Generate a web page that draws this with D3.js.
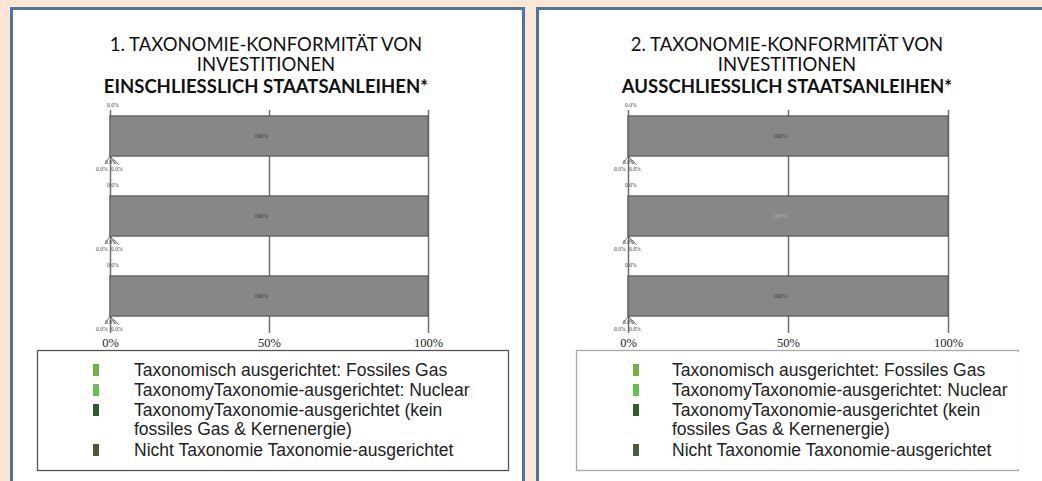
<!DOCTYPE html>
<html>
<head>
<meta charset="utf-8">
<script src="https://cdn.jsdelivr.net/npm/d3@7"></script>
<style>
  body { margin: 0; background: #fde6d5; }
  svg { display: block; }
</style>
</head>
<body>
<div id="chart"></div>
<script>
// chart data
let categories = ["Umsatz", "CapEx", "OpEx"];
let seriesNames = [
    "Taxonomisch ausgerichtet: Fossiles Gas",
    "TaxonomyTaxonomie-ausgerichtet: Nuclear",
    "TaxonomyTaxonomie-ausgerichtet (kein fossiles Gas & Kernenergie)",
    "Nicht Taxonomie Taxonomie-ausgerichtet"
];
// values per category, order = seriesNames
let valuesChart1 = [[0, 0, 0, 100], [0, 0, 0, 100], [0, 0, 0, 100]];
let valuesChart2 = [[0, 0, 0, 100], [0, 0, 0, 100], [0, 0, 0, 100]];
let tickValues = [0, 50, 100];
let titleLines1 = ["1. TAXONOMIE-KONFORMITÄT VON", "INVESTITIONEN", "EINSCHLIESSLICH STAATSANLEIHEN*"];
let titleLines2 = ["2. TAXONOMIE-KONFORMITÄT VON", "INVESTITIONEN", "AUSSCHLIESSLICH STAATSANLEIHEN*"];
let legendLines = [
    ["Taxonomisch ausgerichtet: Fossiles Gas"],
    ["TaxonomyTaxonomie-ausgerichtet: Nuclear"],
    ["TaxonomyTaxonomie-ausgerichtet (kein", "fossiles Gas & Kernenergie)"],
    ["Nicht Taxonomie Taxonomie-ausgerichtet"]
];

let svgWidth = 1042;
let svgHeight = 481;
let legendColors = ["#74b046", "#62c051", "#2f5b2f", "#4c5a3c"];

var svg = d3.select("#chart")
    .append("svg")
    .attr("width", svgWidth)
    .attr("height", svgHeight);

svg.append("rect")
    .attr("width", svgWidth)
    .attr("height", svgHeight)
    .attr("fill", "#fde6d5");

// draw one panel with title, bars and legend
function drawPanel(opts) {
    var g = svg.append("g");

    g.append("rect")
        .attr("x", opts.px)
        .attr("y", 8.5)
        .attr("width", opts.pw)
        .attr("height", 520)
        .attr("fill", "#ffffff")
        .attr("stroke", "#4b76a3")
        .attr("stroke-width", 3);

    // title
    var title = g.append("text")
        .attr("text-anchor", "middle")
        .attr("font-family", "Lato, sans-serif")
        .attr("font-size", "18.5px")
        .attr("fill", "#111");
    opts.title.forEach(function(line, i) {
        title.append("tspan")
            .attr("x", opts.titleX)
            .attr("y", [51, 71, 93][i])
            .attr("font-weight", i == 2 ? "bold" : "normal")
            .text(line);
    });

    var xScale = d3.scaleLinear()
        .domain([0, 100])
        .range([opts.x0, opts.x1]);

    var yScale = d3.scaleBand()
        .domain(categories)
        .range([96, 336])
        .paddingInner(0.5)
        .paddingOuter(0.25);

    // grid lines / ticks
    var axis = d3.axisBottom(xScale)
        .tickValues(tickValues)
        .tickSize(223)
        .tickFormat(d => d + "%");

    var axisG = g.append("g")
        .attr("transform", "translate(0,110)")
        .call(axis);
    axisG.select(".domain").remove();
    axisG.selectAll("line").attr("stroke", "#6f6f6f").attr("stroke-width", 1.5);
    axisG.selectAll("text")
        .attr("font-family", "'Liberation Serif', serif")
        .attr("font-size", "12.5px")
        .attr("fill", "#222")
        .attr("dy", 0)
        .attr("y", 237);

    // stacked bars
    var stackData = categories.map(function(c, i) {
        var row = { cat: c };
        seriesNames.forEach(function(s, j) { row[s] = opts.values[i][j]; });
        return row;
    });
    var stacked = d3.stack().keys(seriesNames)(stackData);

    var lastSeries = stacked[stacked.length - 1];
    g.selectAll(".bar")
        .data(lastSeries)
        .enter()
        .append("rect")
        .attr("x", d => xScale(d[0]))
        .attr("y", d => yScale(d.data.cat))
        .attr("width", d => xScale(d[1]) - xScale(d[0]))
        .attr("height", yScale.bandwidth())
        .attr("fill", "#878787")
        .attr("stroke", "#676767")
        .attr("stroke-width", 1.5);

    g.selectAll(".barlabel")
        .data(lastSeries)
        .enter()
        .append("text")
        .attr("x", d => xScale((d[0] + d[1]) / 2) - 8)
        .attr("y", d => yScale(d.data.cat) + yScale.bandwidth() / 2 + 2)
        .attr("text-anchor", "middle")
        .attr("font-family", "'Liberation Serif', serif")
        .attr("font-size", "6px")
        .attr("fill", (d, i) => opts.midLight && i == 1 ? "#b5b5b5" : "#3c3c3c")
        .text(d => (d[1] - d[0]).toFixed(0) + "%");

    // tiny labels for the zero segments
    categories.forEach(function(c, i) {
        var x0 = xScale(0);
        var top = yScale(c);
        var bottom = top + yScale.bandwidth();
        var small = g.append("g")
            .attr("font-family", "'Liberation Serif', serif")
            .attr("font-size", "5.5px")
            .attr("fill", "#444");
        small.append("text").attr("x", x0 - 3).attr("y", top - 9)
            .text(opts.values[i][0].toFixed(1) + "%");
        small.append("text").attr("x", x0 - 5).attr("y", bottom + 8)
            .text(opts.values[i][1].toFixed(1) + "%");
        small.append("text").attr("x", x0 - 14).attr("y", bottom + 15)
            .text(opts.values[i][2].toFixed(1) + "%");
        small.append("text").attr("x", x0 + 1).attr("y", bottom + 15)
            .text(opts.values[i][2].toFixed(1) + "%");
        [[-5, 8], [5, 8], [9, 9]].forEach(function(p) {
            small.append("line")
                .attr("x1", x0).attr("y1", bottom)
                .attr("x2", x0 + p[0]).attr("y2", bottom + p[1])
                .attr("stroke", "#555")
                .attr("stroke-width", 0.7);
        });
    });

    // legend box
    var lg = g.append("g");
    lg.append("rect")
        .attr("x", opts.lx)
        .attr("y", 350.5)
        .attr("width", opts.lw)
        .attr("height", 120)
        .attr("fill", "#ffffff")
        .attr("stroke", opts.lStroke)
        .attr("stroke-width", 1.3);
    if (opts.openRight) {
        lg.append("rect")
            .attr("x", opts.lx + opts.lw - 1)
            .attr("y", 352)
            .attr("width", 4)
            .attr("height", 117)
            .attr("fill", "#ffffff");
    }

    // baselines: items 20px apart, wrapped line a bit tighter
    var itemY = [376, 396, 416, 456];
    legendLines.forEach(function(lines, i) {
        lg.append("rect")
            .attr("x", opts.mx)
            .attr("y", itemY[i] - 12)
            .attr("width", 6)
            .attr("height", 12)
            .attr("fill", legendColors[i]);
        lines.forEach(function(line, k) {
            lg.append("text")
                .attr("x", opts.tx)
                .attr("y", itemY[i] + k * 19)
                .attr("font-family", "'Liberation Sans', Arial, sans-serif")
                .attr("font-size", "17.5px")
                .attr("fill", "#222")
                .text(line);
        });
    });
}

drawPanel({
    px: 11.5, pw: 512, titleX: 266,
    x0: 110, x1: 428, values: valuesChart1, title: titleLines1,
    lx: 37.5, lw: 471, lStroke: "#555555", mx: 93, tx: 134, openRight: false, midLight: false
});

drawPanel({
    px: 537.5, pw: 560, titleX: 787,
    x0: 628, x1: 948, values: valuesChart2, title: titleLines2,
    lx: 576.5, lw: 442, lStroke: "#a8a8a8", mx: 633, tx: 672, openRight: true, midLight: true
});
</script>
</body>
</html>
